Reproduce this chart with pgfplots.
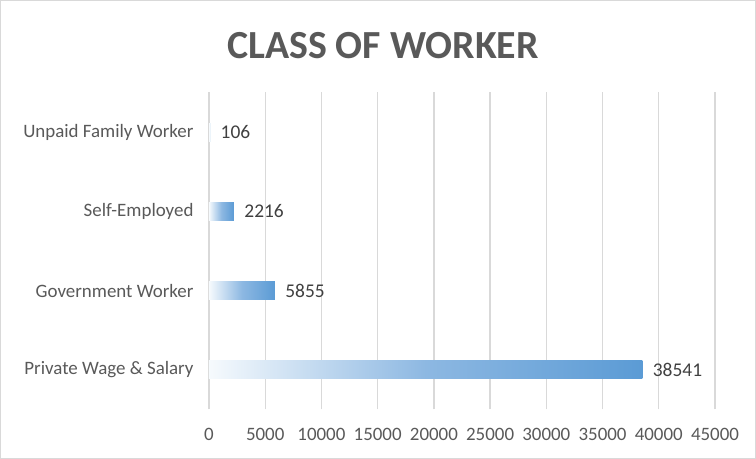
\documentclass[border=0pt]{standalone}
\usepackage{fontspec}
\setmainfont{Carlito}
\usepackage{pgfplots}
\pgfplotsset{compat=1.18}
\definecolor{barblue}{HTML}{5B9BD5}
\definecolor{barmid}{HTML}{8DB8E2}
\definecolor{barlight}{HTML}{F6FAFD}
\definecolor{gridgray}{HTML}{D9D9D9}
\definecolor{txtgray}{HTML}{595959}
\definecolor{valgray}{HTML}{404040}
\begin{document}
\begin{tikzpicture}[x=1bp,y=1bp]
% outer chart frame
\draw[gridgray, line width=1bp] (-208.5,-49) rectangle (546.5,409);
\node[font=\fontsize{40}{44}\selectfont\bfseries, text=txtgray] at (174,364) {CLASS OF WORKER};
\begin{axis}[
    at={(0,0)}, anchor=south west,
    scale only axis,
    width=506bp, height=317bp,
    xbar, bar shift=0pt,
    bar width=18bp,
    xmin=0, xmax=45000,
    ymin=-0.5, ymax=3.5,
    xtick={0,5000,...,45000},
    scaled x ticks=false,
    ytick={0,1,2,3},
    yticklabels={Private Wage \& Salary, Government Worker, Self-Employed, Unpaid Family Worker},
    axis line style={draw=none},
    major tick length=0pt,
    xmajorgrids,
    grid style={gridgray, line width=1.3bp},
    /pgf/number format/1000 sep={},
    /pgf/number format/assume math mode=true,
    xticklabel style={font=\fontsize{19}{22}\selectfont, text=txtgray, yshift=-15bp},
    yticklabel style={font=\fontsize{19}{22}\selectfont, text=txtgray, xshift=-12bp},
    nodes near coords,
    nodes near coords align={horizontal},
    every node near coord/.append style={font=\fontsize{19.5}{22}\selectfont, text=valgray, xshift=7bp,
        /pgf/number format/1000 sep={}, /pgf/number format/assume math mode=true},
    clip=false,
    every axis plot/.append style={draw=none, left color=barlight, right color=barblue, middle color=barmid, shading angle=90},
]
\addplot coordinates {(38541,0)};
\addplot coordinates {(5855,1)};
\addplot coordinates {(2216,2)};
\addplot coordinates {(106,3)};
\end{axis}
\end{tikzpicture}
\end{document}
